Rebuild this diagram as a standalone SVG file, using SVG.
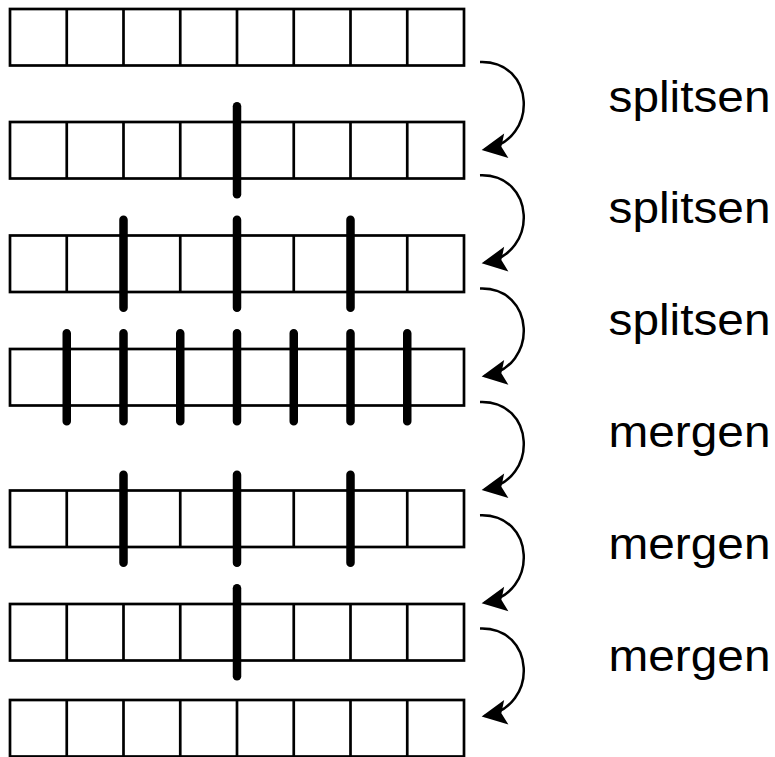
<svg xmlns="http://www.w3.org/2000/svg" width="775" height="757" viewBox="0 0 775 757">
  <style>
    .box { fill: #ffffff; stroke: #000000; stroke-width: 2.7; }
    .div { stroke: #000000; stroke-width: 2.7; }
    .bar { stroke: #000000; stroke-width: 8.5; stroke-linecap: round; }
    .arc { fill: none; stroke: #000000; stroke-width: 2.5; }
    .lbl { font-family: "Liberation Sans", Arial, sans-serif; font-size: 45px; fill: #000000; }
  </style>
  <defs>
    <marker id="ah" markerUnits="userSpaceOnUse" markerWidth="32" markerHeight="32" viewBox="-2 -15 32 30" refX="22" refY="0" orient="auto">
      <path d="M0,-12.5 L25,0 L0,12.5 L5,0 Z" fill="#000000"/>
    </marker>
    <g id="cells">
      <rect class="box" x="10" y="0" width="454" height="56.5"/>
      <path class="div" d="M66.75,0V56.5M123.5,0V56.5M180.25,0V56.5M237,0V56.5M293.75,0V56.5M350.5,0V56.5M407.25,0V56.5"/>
    </g>
  </defs>

  <g id="row1" transform="translate(0,9)">
    <use href="#cells"/>
  </g>
  <g id="row2" transform="translate(0,122)">
    <use href="#cells"/>
    <path class="bar" d="M237,-15.75V72.25"/>
  </g>
  <g id="row3" transform="translate(0,235.5)">
    <use href="#cells"/>
    <path class="bar" d="M123.5,-15.75V72.25M237,-15.75V72.25M350.5,-15.75V72.25"/>
  </g>
  <g id="row4" transform="translate(0,349)">
    <use href="#cells"/>
    <path class="bar" d="M66.75,-15.75V72.25M123.5,-15.75V72.25M180.25,-15.75V72.25M237,-15.75V72.25M293.75,-15.75V72.25M350.5,-15.75V72.25M407.25,-15.75V72.25"/>
  </g>
  <g id="row5" transform="translate(0,490.5)">
    <use href="#cells"/>
    <path class="bar" d="M123.5,-15.75V72.25M237,-15.75V72.25M350.5,-15.75V72.25"/>
  </g>
  <g id="row6" transform="translate(0,604)">
    <use href="#cells"/>
    <path class="bar" d="M237,-15.75V72.25"/>
  </g>
  <g id="row7" transform="translate(0,700)">
    <use href="#cells"/>
  </g>

  <g id="connectors">
    <path class="arc" marker-end="url(#ah)" d="M480,62 C535,60 540,140 484.6,149.5"/>
    <path class="arc" marker-end="url(#ah)" d="M480,175.3 C535,173.3 540,253.3 484.6,262.8"/>
    <path class="arc" marker-end="url(#ah)" d="M480,288.6 C535,286.6 540,366.6 484.6,376.1"/>
    <path class="arc" marker-end="url(#ah)" d="M480,402 C535,400 540,480 484.6,489.5"/>
    <path class="arc" marker-end="url(#ah)" d="M480,515.2 C535,513.2 540,593.2 484.6,602.7"/>
    <path class="arc" marker-end="url(#ah)" d="M480,628.5 C535,626.5 540,706.5 484.6,716"/>
  </g>

  <g id="labels">
    <text class="lbl" x="608.5" y="112" textLength="162" lengthAdjust="spacingAndGlyphs">splitsen</text>
    <text class="lbl" x="608.5" y="223" textLength="162" lengthAdjust="spacingAndGlyphs">splitsen</text>
    <text class="lbl" x="608.5" y="335" textLength="162" lengthAdjust="spacingAndGlyphs">splitsen</text>
    <text class="lbl" x="608.5" y="447" textLength="162" lengthAdjust="spacingAndGlyphs">mergen</text>
    <text class="lbl" x="608.5" y="559" textLength="162" lengthAdjust="spacingAndGlyphs">mergen</text>
    <text class="lbl" x="608.5" y="671" textLength="162" lengthAdjust="spacingAndGlyphs">mergen</text>
  </g>
</svg>
